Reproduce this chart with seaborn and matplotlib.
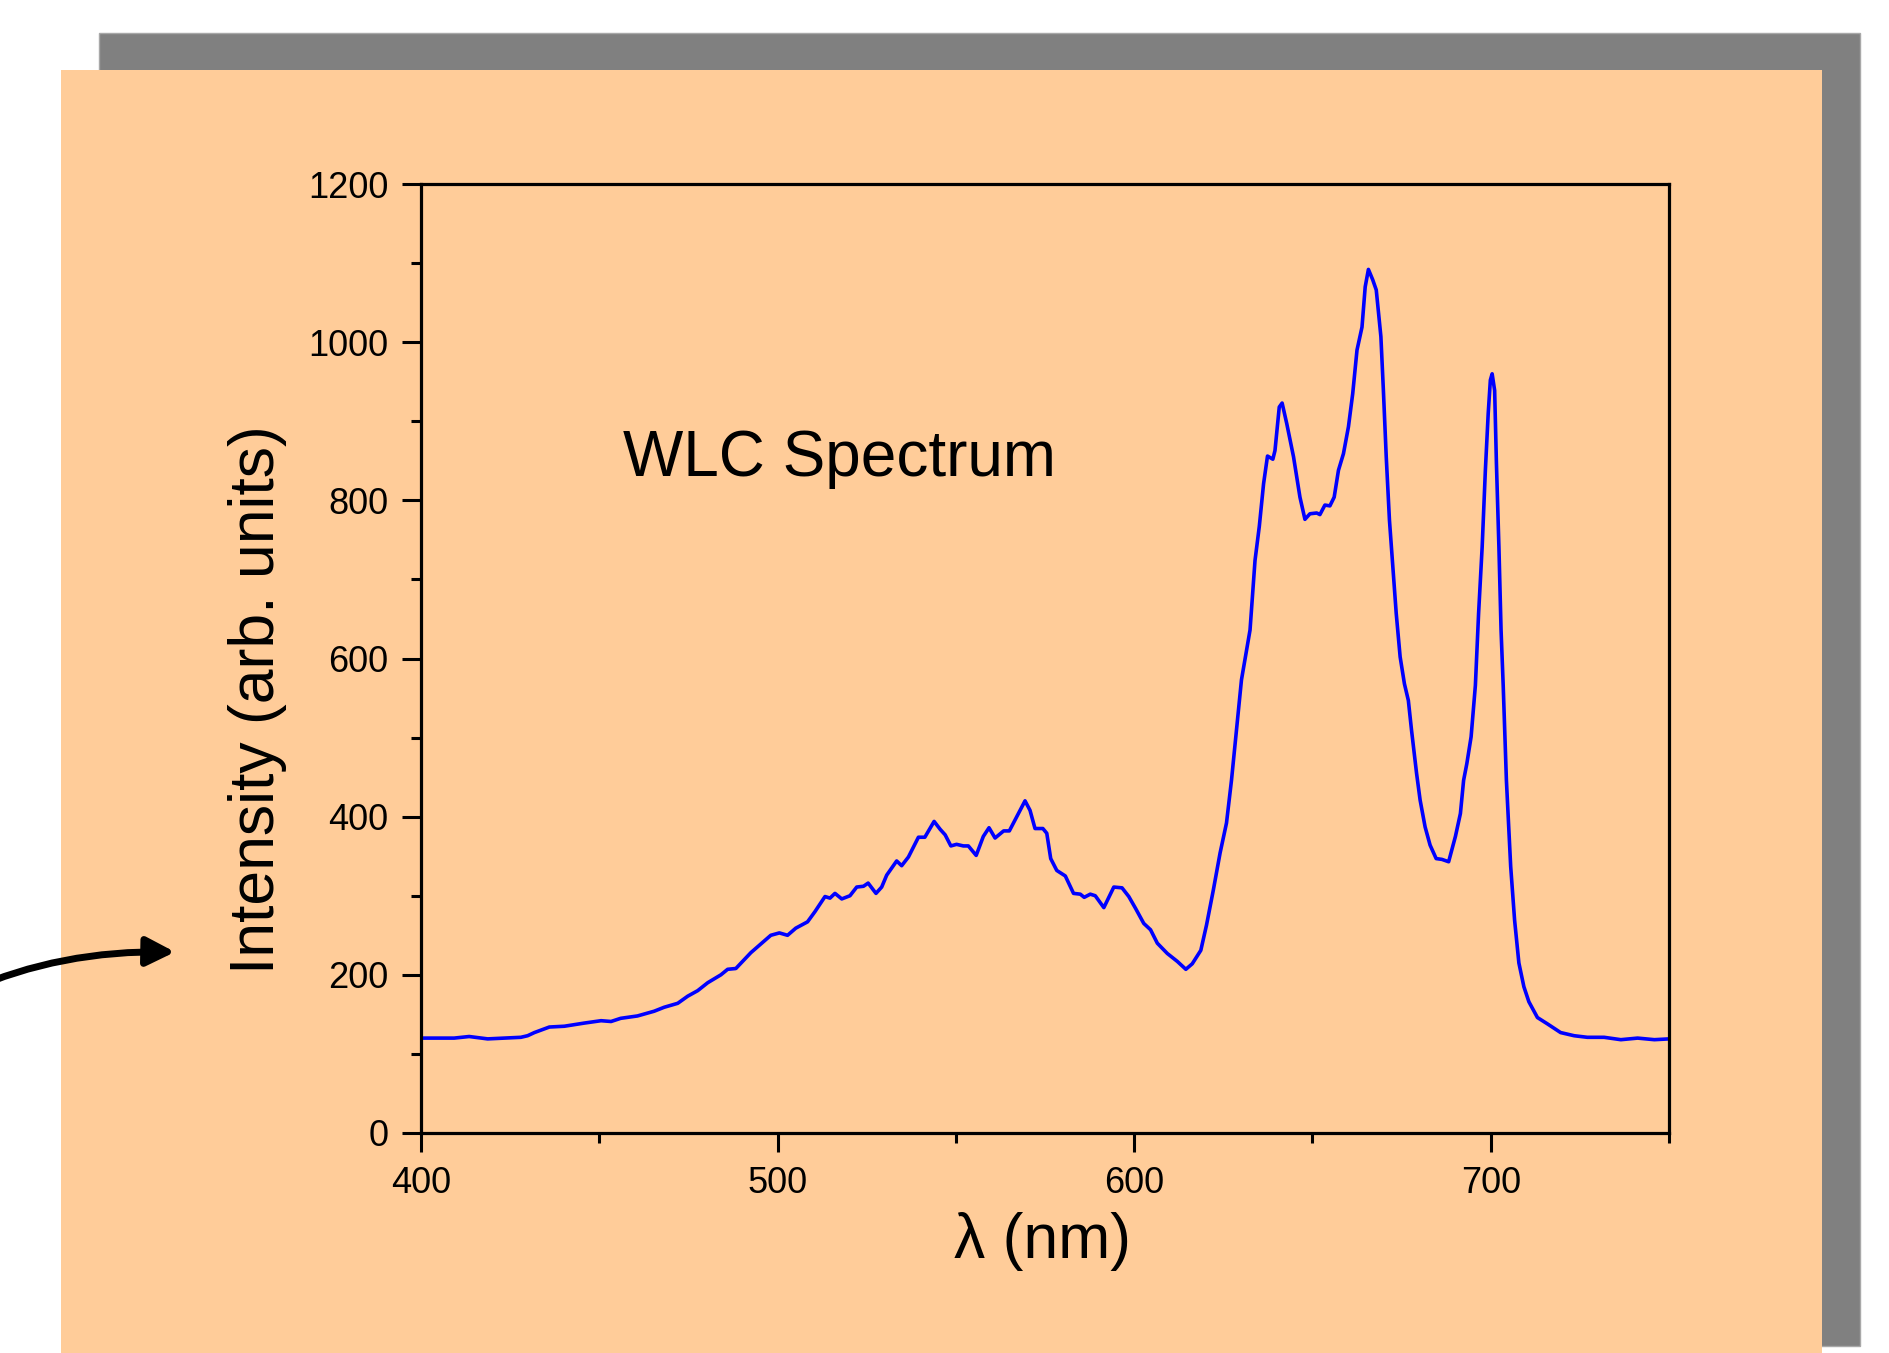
import numpy as np
import pandas as pd
import matplotlib
matplotlib.use("Agg")
import matplotlib.pyplot as plt
import seaborn as sns
from matplotlib.patches import Rectangle, FancyArrowPatch
from matplotlib.path import Path
from matplotlib.ticker import MultipleLocator

# ---------------- DATA ----------------
wavelength = [
    400, 409.3, 413.5, 418.7, 428, 429.9, 431.8, 436, 440.2, 445.8,
    450.5, 453.3, 456, 460.7, 465.4, 468.2, 472, 474.8, 477.6, 480.4,
    484.1, 486, 488.3, 490.2, 492.5, 495.3, 498.1, 500.5, 502.8, 505.1,
    508.4, 510.5, 513.3, 514.7, 516.1, 518, 520.3, 522.2, 524.1, 525.4,
    527.6, 529.2, 530.6, 533.4, 534.8, 536.7, 539.5, 541.3, 543.9, 545.6,
    547, 548.6, 550.2, 552.1, 553.5, 555.7, 557.7, 559.3, 561, 563.4,
    565, 567.1, 569.4, 570.8, 572.2, 574.4, 575.5, 576.6, 578.3, 580.7,
    583, 584.9, 586, 587.7, 589.1, 591.5, 594.3, 596.6, 598.5, 600.4,
    602.7, 604.6, 606.5, 609.3, 612.1, 614.5, 616.3, 618.7, 620.3, 622.2,
    624.1, 625.9, 627.3, 628.7, 630.1, 632.5, 633.9, 635.1, 636.3, 637.4,
    638.9, 639.5, 640.7, 641.5, 642.8, 644.7, 646.5, 647.9, 649.3, 651.2,
    652.1, 653.5, 654.9, 656.1, 657.3, 658.7, 660.1, 661.3, 662.5, 663.9,
    664.8, 665.7, 666.9, 667.9, 669.2, 669.9, 670.7, 671.6, 672.5, 673.5,
    674.6, 675.8, 676.9, 677.8, 679.2, 680.2, 681.6, 683, 684.7, 686.3,
    688.2, 690.1, 691.5, 692.4, 693.3, 694.5, 695.2, 695.7, 696.6, 697.6,
    698.5, 699.3, 699.9, 700.4, 701.1, 701.6, 702.3, 702.9, 703.5, 704.4,
    705.6, 706.7, 707.9, 709.3, 710.7, 713.1, 715.9, 719.6, 723.4, 727.1,
    731.8, 736.5, 741.2, 745.9, 750,
]
intensity = [
    120, 120, 122, 119, 121, 123, 127, 134, 135, 139,
    142, 141, 145, 148, 154, 159, 164, 173, 180, 190,
    200, 207, 208, 217, 228, 239, 250, 253, 250, 259,
    267, 280, 299, 297, 303, 296, 300, 311, 312, 316,
    303, 311, 326, 344, 338, 349, 374, 374, 394, 384,
    377, 363, 365, 363, 363, 351, 375, 386, 373, 382,
    382, 400, 420, 408, 385, 385, 379, 347, 332, 325,
    303, 302, 298, 302, 300, 285, 311, 310, 299, 284,
    265, 257, 240, 227, 217, 207, 214, 231, 263, 307,
    354, 392, 446, 509, 573, 636, 724, 767, 821, 856,
    852, 863, 918, 923, 897, 855, 804, 776, 783, 784,
    782, 794, 793, 804, 838, 859, 893, 935, 990, 1019,
    1070, 1092, 1079, 1066, 1007, 939, 855, 775, 720, 657,
    602, 568, 547, 509, 455, 421, 387, 364, 347, 346,
    343, 375, 404, 446, 467, 501, 539, 566, 657, 741,
    838, 910, 952, 960, 939, 847, 741, 636, 566, 446,
    337, 269, 215, 185, 166, 146, 138, 127, 123, 121,
    121, 118, 120, 118, 119,
]

x_ticks = [400, 500, 600, 700]
y_ticks = [0, 200, 400, 600, 800, 1000, 1200]

df = pd.DataFrame({"wavelength": wavelength, "intensity": intensity})

# ---------------- STYLE ----------------
sns.set_style("ticks")
plt.rcParams["font.family"] = ["Liberation Sans", "DejaVu Sans"]
plt.rcParams["text.color"] = "black"
plt.rcParams["axes.labelcolor"] = "black"
plt.rcParams["xtick.color"] = "black"
plt.rcParams["ytick.color"] = "black"

orange = "#FFCC99"
W, H = 1889, 1353

fig = plt.figure(figsize=(W / 100, H / 100), dpi=100, facecolor="white")

# shadow box + slide panel
fig.patches.append(Rectangle((99 / W, 1 - 1346 / H), (1860 - 99) / W, (1346 - 33) / H,
                             transform=fig.transFigure, facecolor="#808080",
                             edgecolor="#A8A8A8", lw=1, zorder=-20))
fig.patches.append(Rectangle((61 / W, -0.01), (1822 - 61) / W, (1 - 70 / H) + 0.01,
                             transform=fig.transFigure, facecolor=orange,
                             edgecolor="none", zorder=-10))

ax = fig.add_axes([421 / W, 1 - 1133 / H, (1669 - 421) / W, (1133 - 184) / H])
ax.set_facecolor(orange)

sns.lineplot(data=df, x="wavelength", y="intensity", ax=ax,
             color="#0000FF", linewidth=2.6, estimator=None, sort=False,
             solid_joinstyle="round", solid_capstyle="round")

ax.set_xlim(400, 750)
ax.set_ylim(0, 1200)
ax.set_xticks(x_ticks)
ax.set_yticks(y_ticks)
ax.xaxis.set_minor_locator(MultipleLocator(50))
ax.yaxis.set_minor_locator(MultipleLocator(100))
ax.tick_params(axis="both", which="major", direction="out", length=13.5,
               width=2.2, labelsize=26, pad=10, colors="black",
               top=False, right=False)
ax.tick_params(axis="both", which="minor", direction="out", length=7,
               width=2.2, top=False, right=False, colors="black")
for s in ax.spines.values():
    s.set_visible(True)
    s.set_linewidth(2.3)
    s.set_color("black")

ax.set_xlabel("λ (nm)", fontsize=45, color="black")
ax.set_ylabel("Intensity (arb. units)", fontsize=45, va="center", color="black")
ax.xaxis.set_label_coords(0.498, -0.114)
ax.yaxis.label.set_verticalalignment("center")
ax.xaxis.label.set_verticalalignment("center")
ax.yaxis.set_label_coords(-0.131, 0.457)

ax.text(456.6, 831, "WLC Spectrum", fontsize=46, ha="left", va="baseline",
        color="black")

# curved pointer arrow on the left
def fp(x, y):
    return (x / W, 1 - y / H)

arrow_path = Path([fp(-30, 990), fp(60, 950), fp(175, 952)],
                  [Path.MOVETO, Path.CURVE3, Path.CURVE3])
arrow = FancyArrowPatch(path=arrow_path, transform=fig.transFigure,
                        arrowstyle="-|>,head_length=0.85,head_width=0.43",
                        mutation_scale=20, lw=5, color="black", zorder=5)
fig.patches.append(arrow)

fig.savefig("out.png", dpi=100, facecolor="white")
